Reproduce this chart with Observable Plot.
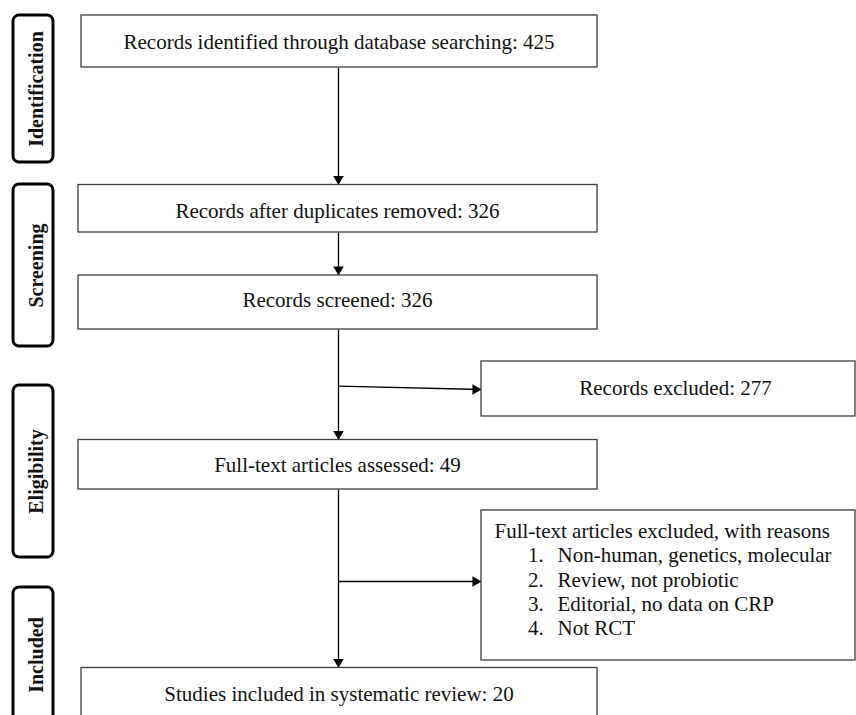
<!DOCTYPE html>
<html>
<head>
<meta charset="utf-8">
<script src="https://cdn.jsdelivr.net/npm/d3@7"></script>
<script src="https://cdn.jsdelivr.net/npm/@observablehq/plot@0.6"></script>
<style>
  html, body { margin: 0; padding: 0; background: #fff; }
  #chart svg { display: block; }
</style>
</head>
<body>
<div id="chart"></div>
<script>
// ---- data ----
const stages = ["Identification", "Screening", "Eligibility", "Included"];
const stepLabels = [
  "Records identified through database searching",
  "Records after duplicates removed",
  "Records screened",
  "Records excluded",
  "Full-text articles assessed",
  "Full-text articles excluded, with reasons",
  "Studies included in systematic review"
];
const stepCounts = [425, 326, 326, 277, 49, null, 20];
const exclusionReasons = [
  "Non-human, genetics, molecular",
  "Review, not probiotic",
  "Editorial, no data on CRP",
  "Not RCT"
];

// ---- layout (pixel positions in the 856x715 frame) ----
const stageLayout = [
  {y1: 15, y2: 162},
  {y1: 184, y2: 346},
  {y1: 385, y2: 557},
  {y1: 587, y2: 722}
];
const stepLayout = [
  {x1: 81, x2: 597, y1: 15, y2: 67, tx: 338.5, ty: 41.5},
  {x1: 78, x2: 597, y1: 184.5, y2: 232, tx: 337, ty: 211},
  {x1: 78, x2: 597, y1: 275, y2: 329, tx: 337, ty: 300},
  {x1: 481, x2: 855, y1: 361, y2: 416, tx: 675, ty: 388},
  {x1: 78, x2: 597, y1: 439.5, y2: 489, tx: 337, ty: 465},
  {x1: 481, x2: 855, y1: 510, y2: 660, tx: 494, ty: 530.5},
  {x1: 81, x2: 597, y1: 667.5, y2: 722, tx: 338.5, ty: 694}
];
const trunkX = 338;
const connectors = [
  {x1: trunkX, y1: 67, x2: trunkX, y2: 184.5, dir: "down"},
  {x1: trunkX, y1: 232, x2: trunkX, y2: 275, dir: "down"},
  {x1: trunkX, y1: 329, x2: trunkX, y2: 439.5, dir: "down"},
  {x1: trunkX, y1: 489, x2: trunkX, y2: 667.5, dir: "down"},
  {x1: trunkX, y1: 385.7, x2: 481, y2: 389, dir: "right"},
  {x1: trunkX, y1: 581, x2: 481, y2: 581, dir: "right"}
];

// ---- derived tables ----
const steps = stepLabels.map((label, i) => ({
  ...stepLayout[i],
  text: stepCounts[i] == null ? label : `${label}: ${stepCounts[i]}`,
  list: stepCounts[i] == null
}));
const stageRows = stages.map((s, i) => ({
  name: s, x1: 13, x2: 53, ...stageLayout[i], cy: (stageLayout[i].y1 + stageLayout[i].y2) / 2
}));
const reasonRows = exclusionReasons.map((r, i) => ({
  num: `${i + 1}.`, text: r, y: 555 + i * 24.3
}));
const tipOffset = 6;
const heads = connectors.map(c => c.dir === "down"
  ? {x: c.x2, y: c.y2 - tipOffset, a: 180}
  : {x: c.x2 - tipOffset, y: c.y2, a: 90});

const serif = "Liberation Serif, Times New Roman, Times, serif";
const ink = "#111";
const fs = 21;

const chart = Plot.plot({
  width: 856,
  height: 715,
  margin: 0,
  style: {background: "#fff", overflow: "hidden"},
  x: {domain: [0, 856], range: [0, 856], axis: null},
  y: {domain: [0, 715], range: [0, 715], axis: null},
  marks: [
    // stage boxes
    Plot.rect(stageRows, {x1: "x1", x2: "x2", y1: "y1", y2: "y2", fill: "#fff", stroke: "#000", strokeWidth: 3, rx: 6}),
    Plot.text(stageRows, {x: 36.5, y: "cy", text: "name", rotate: -90, fontFamily: serif, fontWeight: "bold", fontSize: 20, fill: ink}),
    // connectors
    Plot.link(connectors, {x1: "x1", y1: "y1", x2: "x2", y2: "y2", stroke: "#000", strokeWidth: 1.3}),
    Plot.dot(heads, {x: "x", y: "y", rotate: "a", symbol: "triangle", r: 3.9, fill: "#000", stroke: "none"}),
    // step boxes
    Plot.rect(steps, {x1: "x1", x2: "x2", y1: "y1", y2: "y2", fill: "#fff", stroke: "#3c3c3c", strokeWidth: 1.3}),
    Plot.text(steps.filter(d => !d.list), {x: "tx", y: "ty", text: "text", fontFamily: serif, fontSize: fs, fill: ink}),
    Plot.text(steps.filter(d => d.list), {x: "tx", y: "ty", text: "text", textAnchor: "start", fontFamily: serif, fontSize: fs, fill: ink}),
    Plot.text(reasonRows, {x: 527.5, y: "y", text: "num", textAnchor: "start", fontFamily: serif, fontSize: fs, fill: ink}),
    Plot.text(reasonRows, {x: 557, y: "y", text: "text", textAnchor: "start", fontFamily: serif, fontSize: fs, fill: ink})
  ]
});
document.getElementById("chart").append(chart);
</script>
</body>
</html>
